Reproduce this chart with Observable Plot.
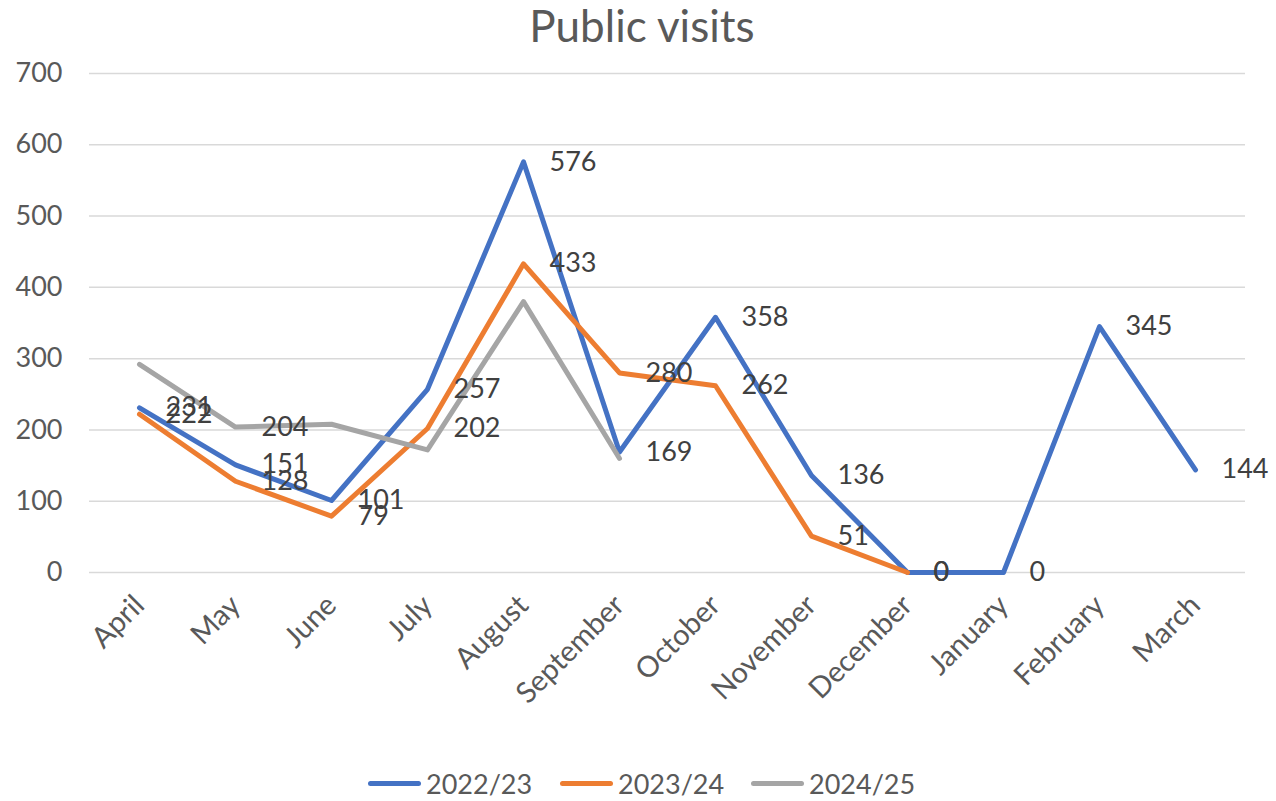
<!DOCTYPE html>
<html><head><meta charset="utf-8">
<script src="https://cdn.jsdelivr.net/npm/d3@7"></script>
<script src="https://cdn.jsdelivr.net/npm/@observablehq/plot@0.6"></script>
<style>
body{margin:0;background:#fff;font-family:Lato,sans-serif;width:1276px;height:801px;overflow:hidden;position:relative;}
#title{height:50px;line-height:50px;text-align:center;font-size:44px;color:#595959;padding-left:8px;}
#chart{height:700px;}
#legend{position:absolute;left:0;top:750px;width:1276px;height:51px;}
.item{position:absolute;top:16px;height:34px;display:flex;align-items:center;font-size:27px;color:#595959;}
.sw{display:inline-block;width:53px;height:5px;border-radius:3px;margin-right:5px;}
</style></head><body>
<div id="title">Public visits</div>
<div id="chart"></div>
<div id="legend"></div>
<script>
const months = ["April","May","June","July","August","September","October","November","December","January","February","March"];
const seriesNames = ["2022/23","2023/24","2024/25"];
const colors = ["#4472C4","#ED7D31","#A5A5A5"];
const v2223 = [231,151,101,257,576,169,358,136,0,0,345,144];
const v2324 = [222,128,79,202,433,280,262,51,0];
const v2425 = [292,204,208,172,380,160];
const labelled2425 = ["May"];
const yTicks = [0,100,200,300,400,500,600,700];

const rows = [];
[v2223, v2324, v2425].forEach((vals, si) => {
  vals.forEach((v, i) => rows.push({month: months[i], value: v, series: seriesNames[si]}));
});
const labelRows = rows.filter(d => d.series !== "2024/25" || labelled2425.includes(d.month));

const chart = Plot.plot({
  width: 1276, height: 700,
  marginLeft: 89, marginRight: 31, marginTop: 23, marginBottom: 178,
  style: {fontFamily: "Lato, sans-serif", color: "#595959", background: "#fff"},
  x: {type: "point", domain: months, padding: 0.5, label: null},
  y: {domain: [0, 700], label: null},
  color: {domain: seriesNames, range: colors},
  marks: [
    Plot.gridY(yTicks, {stroke: "#D9D9D9", strokeOpacity: 1, strokeWidth: 1.5}),
    Plot.axisY(yTicks, {tickSize: 0, tickPadding: 27, fontSize: 27, fill: "#595959", label: null}),
    Plot.axisX({tickSize: 0, tickPadding: 28, tickRotate: -45, fontSize: 29, fill: "#595959", label: null}),
    Plot.line(rows, {x: "month", y: "value", z: "series", stroke: "series", strokeWidth: 5, strokeLinejoin: "round", strokeLinecap: "round"}),
    Plot.text(labelRows, {x: "month", y: "value", text: d => String(d.value), dx: 26, textAnchor: "start", fontSize: 27, fill: "#404040"})
  ]
});
document.getElementById("chart").appendChild(chart);

const legendPos = [368, 560, 751];
const legend = document.getElementById("legend");
seriesNames.forEach((name, i) => {
  const item = document.createElement("div");
  item.className = "item";
  item.style.left = legendPos[i] + "px";
  item.innerHTML = `<span class="sw" style="background:${colors[i]}"></span><span>${name}</span>`;
  legend.appendChild(item);
});
</script>
</body></html>
